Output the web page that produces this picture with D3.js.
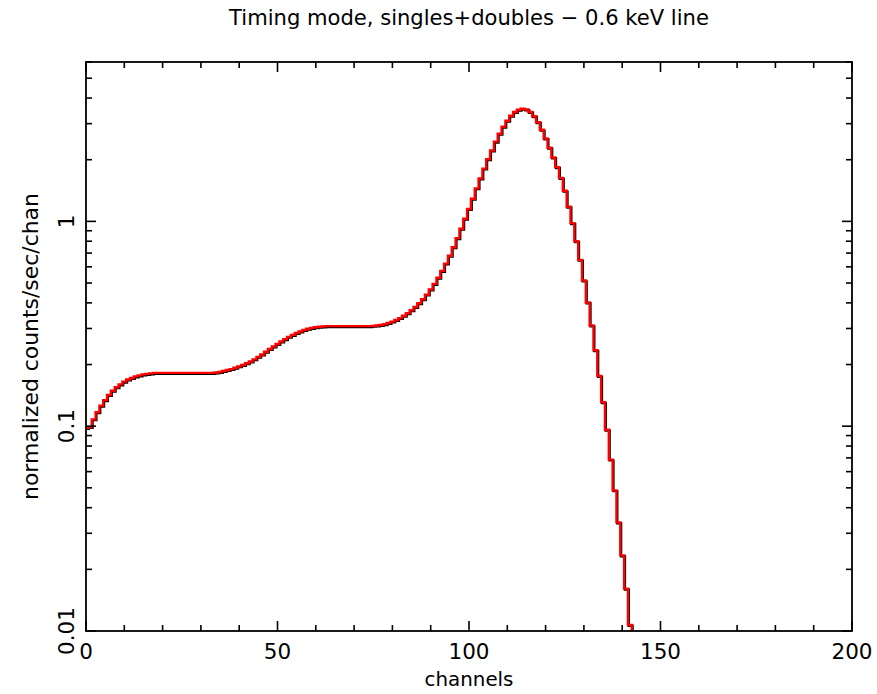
<!DOCTYPE html>
<html>
<head>
<meta charset="utf-8">
<script src="https://cdn.jsdelivr.net/npm/d3@7"></script>
<style>
html,body{margin:0;padding:0;background:#fff;}
svg{display:block;}
text{font-family:"DejaVu Sans",sans-serif;fill:#000;}
</style>
</head>
<body>
<svg id="chart" width="877" height="694"></svg>
<script>
// ---- data ----
const titleText = "Timing mode, singles+doubles \u2212 0.6 keV line";
const xLabelText = "channels";
const yLabelText = "normalized counts/sec/chan";
const xDomain = [0, 200];
const yDomain = [0.01, 6];
const xTickLabels = ["0", "50", "100", "150", "200"];
const yTickLabels = ["0.01", "0.1", "1"];
const firstChannel = 0;
// normalized counts/sec/chan per channel, starting at channel 0
const rates = [
  0.098, 0.099, 0.108, 0.117, 0.126, 0.134, 0.142, 0.149, 0.155, 0.160,
  0.165, 0.169, 0.172, 0.175, 0.177, 0.179, 0.180, 0.181, 0.182, 0.182,
  0.182, 0.182, 0.182, 0.182, 0.182, 0.182, 0.182, 0.182, 0.182, 0.182,
  0.182, 0.182, 0.182, 0.182, 0.183, 0.184, 0.186, 0.188, 0.190, 0.193,
  0.196, 0.199, 0.203, 0.207, 0.212, 0.218, 0.224, 0.231, 0.238, 0.245,
  0.252, 0.259, 0.266, 0.273, 0.279, 0.285, 0.290, 0.295, 0.299, 0.302,
  0.304, 0.306, 0.307, 0.308, 0.308, 0.308, 0.308, 0.308, 0.308, 0.308,
  0.308, 0.308, 0.308, 0.308, 0.308, 0.309, 0.310, 0.312, 0.315, 0.319,
  0.324, 0.330, 0.337, 0.346, 0.356, 0.368, 0.382, 0.398, 0.417, 0.439,
  0.465, 0.495, 0.531, 0.573, 0.622, 0.680, 0.748, 0.828, 0.920, 1.03,
  1.15, 1.29, 1.45, 1.62, 1.81, 2.01, 2.22, 2.45, 2.68, 2.90,
  3.10, 3.28, 3.42, 3.51, 3.55, 3.52, 3.42, 3.26, 3.05, 2.80,
  2.54, 2.29, 2.05, 1.84, 1.63, 1.41, 1.18, 0.98, 0.80, 0.649,
  0.514, 0.402, 0.310, 0.235, 0.176, 0.131, 0.0961, 0.0687, 0.0486, 0.0339,
  0.0234, 0.0161, 0.0107, 0.0072
];

// ---- layout ----
const plot = {left: 86, right: 852, top: 62, bottom: 631};
const svg = d3.select("#chart");

const x = d3.scaleLinear().domain(xDomain).range([plot.left, plot.right]);
const y = d3.scaleLog().domain(yDomain).range([plot.bottom, plot.top]);

svg.append("defs").append("clipPath").attr("id", "clip")
  .append("rect")
  .attr("x", plot.left).attr("y", plot.top)
  .attr("width", plot.right - plot.left).attr("height", plot.bottom - plot.top);

const pts = rates.map((v, i) => ({c: firstChannel + i, v}));
const line = d3.line()
  .x(d => x(d.c))
  .y(d => y(d.v))
  .curve(d3.curveStep);

const g = svg.append("g").attr("clip-path", "url(#clip)");
g.append("path").datum(pts)
  .attr("d", line)
  .attr("fill", "none")
  .attr("stroke", "#000")
  .attr("stroke-width", 2.4)
  .attr("transform", "translate(0.8,0.8)");
g.append("path").datum(pts)
  .attr("d", line)
  .attr("fill", "none")
  .attr("stroke", "#ff0000")
  .attr("stroke-width", 2.4);

// ---- frame ----
svg.append("rect")
  .attr("x", plot.left).attr("y", plot.top)
  .attr("width", plot.right - plot.left).attr("height", plot.bottom - plot.top)
  .attr("fill", "none").attr("stroke", "#000").attr("stroke-width", 1.8);

const majorLen = 10, minorLen = 6;
const tk = svg.append("g").attr("stroke", "#000").attr("stroke-width", 1.6);

x.ticks(20).forEach(t => {
  const len = (t % 50 === 0) ? majorLen : minorLen;
  const px = x(t);
  tk.append("line").attr("x1", px).attr("x2", px).attr("y1", plot.bottom).attr("y2", plot.bottom - len);
  tk.append("line").attr("x1", px).attr("x2", px).attr("y1", plot.top).attr("y2", plot.top + len);
});
y.ticks().forEach(t => {
  const lg = Math.log10(t);
  const major = Math.abs(lg - Math.round(lg)) < 1e-9;
  const len = major ? majorLen : minorLen;
  const py = y(t);
  tk.append("line").attr("x1", plot.left).attr("x2", plot.left + len).attr("y1", py).attr("y2", py);
  tk.append("line").attr("x1", plot.right).attr("x2", plot.right - len).attr("y1", py).attr("y2", py);
});

// tick labels
xTickLabels.forEach(s => {
  svg.append("text")
    .attr("x", x(+s)).attr("y", 651)
    .attr("text-anchor", "middle")
    .attr("dominant-baseline", "central")
    .attr("font-size", 21.5)
    .text(s);
});
yTickLabels.forEach(s => {
  const py = y(+s);
  svg.append("text")
    .attr("transform", `translate(66,${py}) rotate(-90)`)
    .attr("text-anchor", "middle")
    .attr("dominant-baseline", "central")
    .attr("font-size", 21.5)
    .text(s);
});

function fitText(sel, target) {
  const w = sel.node().getComputedTextLength();
  const fs = +sel.attr("font-size");
  sel.attr("font-size", fs * target / w);
}
const title = svg.append("text")
  .attr("x", (plot.left + plot.right) / 2).attr("y", 17)
  .attr("text-anchor", "middle").attr("dominant-baseline", "central")
  .attr("font-size", 18).text(titleText);
fitText(title, 480);

const xl = svg.append("text")
  .attr("x", (plot.left + plot.right) / 2).attr("y", 679)
  .attr("text-anchor", "middle").attr("dominant-baseline", "central")
  .attr("font-size", 18).text(xLabelText);
fitText(xl, 89);

const yl = svg.append("text")
  .attr("transform", `translate(30,${(plot.top + plot.bottom) / 2}) rotate(-90)`)
  .attr("text-anchor", "middle").attr("dominant-baseline", "central")
  .attr("font-size", 18).text(yLabelText);
fitText(yl, 307);
</script>
</body>
</html>
